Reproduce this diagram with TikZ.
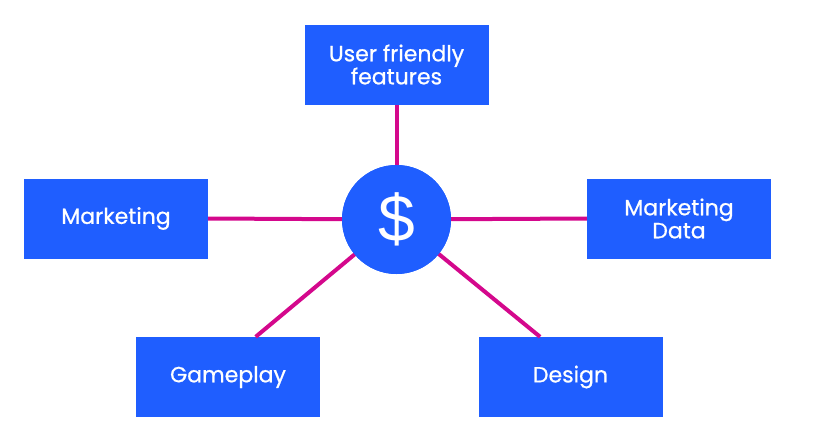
\documentclass[tikz,border=0pt]{standalone}
\usepackage{fontspec}
\setmainfont{Poppins}[FakeBold=0.7]
\newfontfamily\dollarfont{Liberation Sans}
\usetikzlibrary{calc}
\definecolor{boxblue}{HTML}{1F5EFF}
\definecolor{linkmag}{HTML}{D4088C}
\tikzset{
  infobox/.style={fill=boxblue, draw=none, minimum width=184pt, minimum height=80pt, inner sep=0pt,
    text=white, align=center, font=\fontsize{22}{23}\selectfont},
  hub/.style={circle, fill=boxblue, minimum size=109pt, inner sep=0pt, text=white,
    font=\dollarfont\fontsize{66}{70}\selectfont},
  link/.style={draw=linkmag, line width=4pt}
}
\begin{document}
\begin{tikzpicture}[x=1pt,y=-1pt]
\useasboundingbox (0,0) rectangle (824,442);
\node[infobox] (top) at (396.5,64.5) {User friendly\\features};
\node[infobox] (mkt) at (116,218.5) {Marketing};
\node[infobox] (mdata) at (679,218.5) {Marketing\\Data};
\node[infobox] (game) at (228,377) {Gameplay};
\node[infobox] (design) at (570.5,377) {Design};
\coordinate (gpend) at ($(game.north west)!0.65!(game.north east)$);
\coordinate (dsend) at ($(design.north west)!0.335!(design.north east)$);
\node[hub] (hub) at (396.5,219.5) {};
\draw[link] (hub.center) -- (top.south);
\draw[link] (hub.center) -- (mkt.east);
\draw[link] (hub.center) -- (mdata.west);
\draw[link] (hub.center) -- (gpend);
\draw[link] (hub.center) -- (dsend);
\node[hub] (hubfront) at (hub.center) {\$};
\end{tikzpicture}
\end{document}
